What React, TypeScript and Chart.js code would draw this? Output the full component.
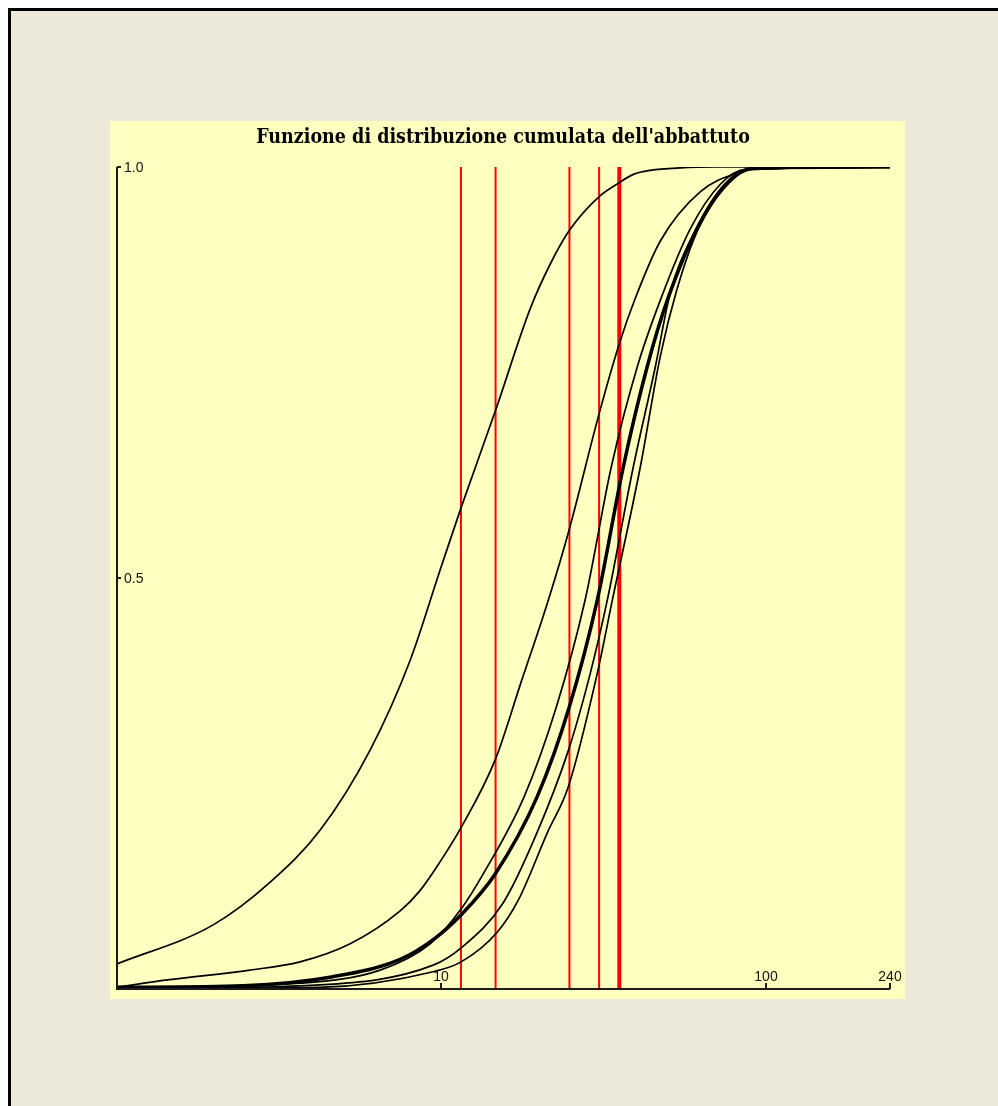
import React, { useEffect, useRef } from "react";
import { Chart, registerables } from "chart.js";

Chart.register(...registerables);

const TITLE = "Funzione di distribuzione cumulata dell'abbattuto";

const X_TICKS = [10, 100, 240];
const X_TICK_LABELS = ["10", "100", "240"];
const Y_TICKS = [0.5, 1.0];
const Y_TICK_LABELS = ["0.5", "1.0"];

const X_MIN = 1;
const X_MAX = 240;

// Curve A (leftmost)
const curveA_x = [1, 1.99, 2.98, 4.24, 6.05, 8.03, 9.93, 11.5, 14.7, 18.8, 21.65, 24.8, 30.6, 35.3, 39, 44, 54.4, 70, 240];
const curveA_y = [0.03, 0.078, 0.13, 0.193, 0.291, 0.4, 0.51, 0.585, 0.704, 0.828, 0.882, 0.923, 0.964, 0.981, 0.991, 0.996, 0.999, 1.0, 1.0];

// Curve B
const curveB_x = [1, 1.44, 2.58, 3.68, 5.25, 7.48, 8.62, 9.93, 11.5, 14.7, 17.5, 21.35, 24.8, 30.6, 35.3, 39.5, 47.2, 62.7, 83.2, 96, 240];
const curveB_y = [0.002, 0.011, 0.023, 0.033, 0.055, 0.095, 0.12, 0.155, 0.196, 0.28, 0.37, 0.473, 0.56, 0.7, 0.785, 0.84, 0.91, 0.97, 0.994, 0.999, 1.0];

// Curve C (thick)
const curveC_x = [1, 2.46, 4.65, 7.48, 9.45, 11.5, 14.66, 19.74, 24.77, 30.2, 36.3, 43.0, 49.6, 62.7, 77.5, 92.5, 240];
const curveC_y = [0.002, 0.004, 0.015, 0.036, 0.06, 0.09, 0.14, 0.234, 0.343, 0.473, 0.635, 0.757, 0.838, 0.933, 0.984, 0.999, 1.0];

// Curve D
const curveD_x = [1, 3.68, 6.49, 9.25, 11.5, 13.47, 18.0, 22.6, 27.7, 33.35, 40.1, 47.2, 58.4, 72.2, 86.2, 240];
const curveD_y = [0.001, 0.007, 0.023, 0.055, 0.097, 0.14, 0.234, 0.343, 0.473, 0.635, 0.757, 0.838, 0.925, 0.979, 0.997, 1.0];

// Curve E
const curveE_x = [1, 4.24, 9.45, 11.52, 15.52, 19.46, 24.6, 28.74, 32.42, 38.97, 45.56, 50.5, 60.5, 74.8, 89.3, 240];
const curveE_y = [0.0, 0.005, 0.029, 0.05, 0.105, 0.185, 0.29, 0.384, 0.473, 0.635, 0.757, 0.845, 0.923, 0.98, 0.997, 1.0];

// Curve F
const curveF_x = [1, 4.24, 9.45, 11.52, 14.87, 17.26, 21.2, 24.6, 30.2, 33.6, 40.96, 47.2, 53.0, 61.8, 76.4, 90.6, 240];
const curveF_y = [0.0, 0.002, 0.021, 0.033, 0.069, 0.108, 0.19, 0.246, 0.384, 0.473, 0.635, 0.77, 0.85, 0.925, 0.98, 0.997, 1.0];

// Red vertical markers
const redLines = [11.5, 14.7, 24.8, 30.6, 35.3];
const redWidths = [2, 2, 2, 2, 4];

function pts(xs: number[], ys: number[]) {
  return xs.map((x, i) => ({ x, y: ys[i] }));
}

const axesPlugin = {
  id: "customAxes",
  afterDatasetsDraw(chart: any) {
    const { ctx, scales } = chart;
    const xs = scales.x;
    const ys = scales.y;
    const x0 = Math.round(xs.getPixelForValue(X_MIN)) + 1;
    const y0 = Math.round(ys.getPixelForValue(0));
    const xEnd = xs.getPixelForValue(X_MAX);
    const yTop = ys.getPixelForValue(1);
    ctx.save();
    ctx.strokeStyle = "#1c1c1c";
    ctx.lineWidth = 2;
    ctx.beginPath();
    ctx.moveTo(x0, yTop);
    ctx.lineTo(x0, y0);
    ctx.lineTo(xEnd, y0);
    ctx.stroke();

    // x ticks (upwards) and labels
    ctx.fillStyle = "#111";
    ctx.font = "14px 'Liberation Sans', Arial, sans-serif";
    ctx.textAlign = "center";
    ctx.textBaseline = "alphabetic";
    X_TICKS.forEach((v, i) => {
      const px = Math.round(xs.getPixelForValue(v));
      ctx.beginPath();
      ctx.moveTo(px, y0);
      ctx.lineTo(px, y0 - 6);
      ctx.stroke();
      ctx.fillText(X_TICK_LABELS[i], px, y0 - 8);
    });

    // y ticks (to the right) and labels
    ctx.textAlign = "left";
    ctx.textBaseline = "middle";
    Y_TICKS.forEach((v, i) => {
      const py = Math.round(ys.getPixelForValue(v));
      ctx.beginPath();
      ctx.moveTo(x0, py);
      ctx.lineTo(x0 + 4, py);
      ctx.stroke();
      ctx.fillText(Y_TICK_LABELS[i], x0 + 7, py + 1);
    });
    ctx.restore();
  },
};

export default function App() {
  const ref = useRef<HTMLCanvasElement | null>(null);

  useEffect(() => {
    if (!ref.current) return;
    const curve = (xs: number[], ys: number[], w: number) => ({
      type: "line" as const,
      data: pts(xs, ys),
      borderColor: "#000000",
      borderWidth: w,
      pointRadius: 0,
      fill: false,
      cubicInterpolationMode: "monotone" as const,
    });
    const datasets: any[] = [
      curve(curveA_x, curveA_y, 1.7),
      curve(curveB_x, curveB_y, 1.7),
      curve(curveC_x, curveC_y, 3.5),
      curve(curveD_x, curveD_y, 1.7),
      curve(curveE_x, curveE_y, 1.7),
      curve(curveF_x, curveF_y, 1.7),
      ...redLines.map((v, i) => ({
        type: "line" as const,
        data: [
          { x: v, y: 0 },
          { x: v, y: 1 },
        ],
        borderColor: "#ff0000",
        borderWidth: redWidths[i],
        pointRadius: 0,
        fill: false,
      })),
    ];
    const chart = new Chart(ref.current, {
      type: "line",
      data: { datasets },
      options: {
        animation: false,
        responsive: false,
        events: [],
        layout: { padding: { left: 6, right: 15, top: 0, bottom: 10 } },
        scales: {
          x: { type: "logarithmic", min: X_MIN, max: X_MAX, display: false },
          y: { type: "linear", min: 0, max: 1, display: false },
        },
        plugins: {
          legend: { display: false },
          tooltip: { enabled: false },
          title: {
            display: true,
            text: TITLE,
            color: "#000",
            font: { family: "'DejaVu Serif Condensed', 'DejaVu Serif', serif", size: 19.5, weight: "bold" },
            padding: { top: 5, bottom: 17.6 },
          },
        },
      },
      plugins: [axesPlugin],
    });
    return () => chart.destroy();
  }, []);

  return (
    <div
      style={{
        position: "fixed",
        left: 8,
        top: 8,
        right: 0,
        bottom: 0,
        borderTop: "3px solid #000",
        borderLeft: "3px solid #000",
        background: "#ECE9D8",
        boxSizing: "border-box",
        overflow: "hidden",
      }}
    >
      <div
        style={{
          position: "absolute",
          left: 99,
          top: 110,
          width: 795,
          height: 878,
          background: "#FFFFC0",
        }}
      >
        <canvas ref={ref} width={795} height={878} style={{ display: "block", width: 795, height: 878 }} />
      </div>
    </div>
  );
}
